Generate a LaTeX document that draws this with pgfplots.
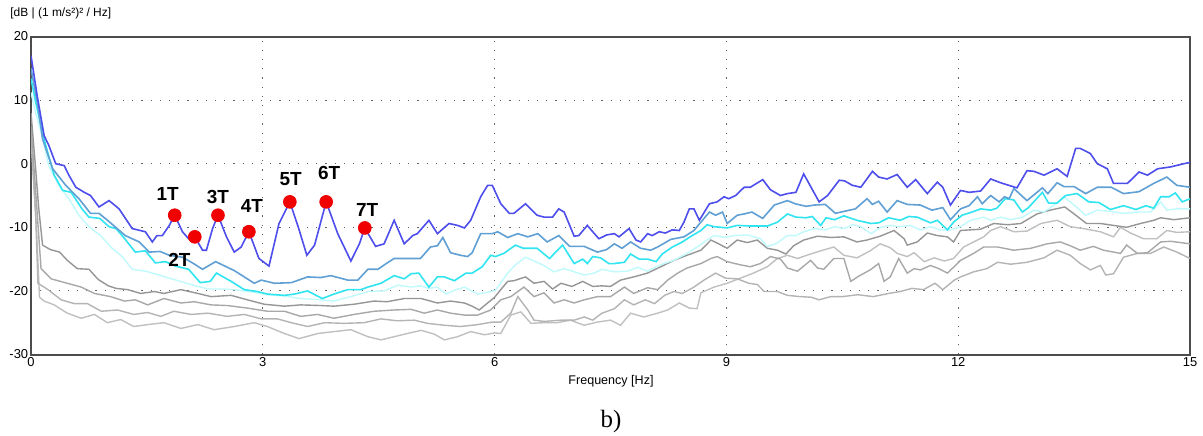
\documentclass[border=0pt]{standalone}
\usepackage{fontspec}
\setmainfont{Liberation Sans}
\newfontfamily\serifb{Liberation Serif}
\usepackage{pgfplots}
\pgfplotsset{compat=1.18}
\definecolor{mainb}{RGB}{78,78,236}
\definecolor{steel}{RGB}{96,160,212}
\definecolor{cyn}{RGB}{48,228,240}
\definecolor{lcyn}{RGB}{192,250,252}
\definecolor{gA}{RGB}{150,150,150}
\definecolor{gB}{RGB}{168,168,168}
\definecolor{gC}{RGB}{180,180,180}
\definecolor{gD}{RGB}{192,192,192}
\definecolor{dotred}{RGB}{240,0,0}
\begin{document}
\begin{tikzpicture}
\useasboundingbox[fill=white] (0bp,0bp) rectangle (601.5bp,-218bp);
\begin{axis}[
  at={(15.5bp,-177.25bp)}, anchor=south west,
  scale only axis, width=579.5bp, height=159bp,
  xmin=0, xmax=15, ymin=-30, ymax=20,
  xtick={0,3,6,9,12,15}, ytick={-30,-20,-10,0,10,20},
  major tick length=0pt,
  grid=major,
  major grid style={gray!75!black, line width=0.5bp, dash pattern=on 0.6bp off 4bp},
  axis line style={gray!60!black, line width=1bp},
  /pgf/number format/assume math mode=true,
  tick label style={font=\fontsize{6.5}{7}\selectfont, text=black},
  yticklabel style={inner sep=1.2bp},
  xticklabel style={inner sep=1.2bp},
  clip=true,
]
% gray curves
\addplot[gD, line width=0.7bp] coordinates {(0,4)(0.07,-10)(0.11,-21)(0.17,-21.6)(0.30,-22.2)(0.47,-23.5)(0.65,-24.3)(0.82,-23.7)(0.99,-25.0)(1.16,-24.5)(1.33,-25.6)(1.51,-25.3)(1.72,-25.0)(1.94,-25.9)(2.16,-25.3)(2.37,-26.1)(2.63,-25.6)(2.89,-25.0)(3.06,-25.6)(3.28,-26.7)(3.47,-27.5)(3.71,-26.7)(3.92,-26.4)(4.14,-26.1)(4.36,-27.2)(4.53,-27.7)(4.70,-27.2)(4.87,-26.7)(5.05,-26.2)(5.22,-26.8)(5.35,-27.7)(5.52,-27.2)(5.69,-26.4)(5.87,-26.9)(6.0,-26.6)(6.08,-26.7)(6.21,-23.8)(6.34,-23.3)(6.47,-25.1)(6.64,-25.0)(6.81,-25.0)(6.98,-24.6)(7.16,-25.4)(7.33,-24.9)(7.50,-24.6)(7.63,-25.4)(7.76,-23.5)(7.93,-24.1)(8.11,-23.5)(8.24,-23.0)(8.39,-21.9)(8.52,-22.7)(8.62,-22.8)(8.67,-20.3)(8.84,-19.4)(9.01,-18.8)(9.18,-18.0)(9.35,-17.2)(9.53,-16.2)(9.66,-14.9)(9.79,-14.4)(9.92,-14.9)(10.09,-14.2)(10.22,-13.7)(10.39,-13.1)(10.52,-14.4)(10.69,-14.8)(10.86,-13.7)(10.99,-12.6)(11.12,-13.2)(11.21,-14.1)(11.34,-14.6)(11.43,-14.0)(11.56,-15.4)(11.69,-14.8)(11.82,-15.3)(11.94,-14.9)(12.07,-13.1)(12.20,-12.3)(12.33,-11.5)(12.42,-10.5)(12.55,-9.9)(12.72,-10.7)(12.89,-10.6)(13.07,-9.4)(13.28,-8.9)(13.45,-9.9)(13.62,-10.2)(13.84,-10.7)(14.01,-11.5)(14.10,-10.0)(14.23,-10.9)(14.40,-11.8)(14.57,-11.8)(14.70,-10.5)(14.83,-10.8)(15,-10.7)};
\addplot[gC, line width=0.7bp] coordinates {(0,5)(0.06,-8)(0.09,-18.8)(0.22,-19.8)(0.39,-21.4)(0.56,-22.0)(0.73,-22.0)(0.91,-23.2)(1.12,-23.0)(1.33,-23.7)(1.51,-23.4)(1.68,-24.0)(1.85,-23.2)(2.07,-23.7)(2.29,-23.5)(2.54,-24.0)(2.76,-23.7)(2.98,-24.4)(3.19,-24.4)(3.37,-25.0)(3.58,-25.6)(3.80,-25.0)(4.05,-25.1)(4.31,-25.0)(4.53,-24.4)(4.74,-24.7)(4.96,-24.6)(5.13,-25.1)(5.35,-25.4)(5.56,-25.6)(5.78,-25.3)(5.97,-24.9)(6.08,-24.9)(6.21,-23.5)(6.30,-20.9)(6.43,-23.0)(6.51,-24.6)(6.64,-24.8)(6.86,-24.6)(7.03,-24.6)(7.16,-24.1)(7.27,-24.6)(7.39,-23.5)(7.55,-22.8)(7.68,-21.4)(7.80,-22.2)(7.95,-21.4)(8.07,-22.0)(8.20,-20.7)(8.32,-20.1)(8.43,-20.4)(8.58,-19.4)(8.71,-18.3)(8.86,-17.2)(8.99,-18.0)(9.14,-18.1)(9.29,-18.8)(9.40,-19.0)(9.49,-20.1)(9.66,-20.1)(9.79,-20.7)(9.96,-20.9)(10.1,-21.0)(10.2,-21.4)(10.35,-20.9)(10.5,-20.9)(10.7,-20.6)(10.9,-20.9)(11.1,-20.4)(11.25,-20.1)(11.4,-19.6)(11.55,-19.8)(11.7,-18.8)(11.8,-19.8)(11.95,-18.3)(12.03,-17.8)(12.20,-17.0)(12.37,-16.5)(12.51,-15.5)(12.68,-15.8)(12.89,-15.5)(13.11,-14.8)(13.28,-13.6)(13.45,-14.4)(13.58,-15.7)(13.71,-16.7)(13.84,-16.0)(13.91,-17.5)(14.01,-17.3)(14.14,-14.7)(14.32,-14.1)(14.49,-14.1)(14.66,-13.1)(14.83,-13.9)(15,-14.9)};
\addplot[gB, line width=0.7bp] coordinates {(0,6)(0.07,-6)(0.13,-16.5)(0.26,-18.1)(0.47,-18.8)(0.65,-19.4)(0.82,-20.4)(1.03,-20.9)(1.21,-21.6)(1.35,-21.4)(1.51,-22.2)(1.72,-21.2)(1.94,-21.9)(2.11,-21.7)(2.33,-22.2)(2.54,-22.3)(2.80,-22.7)(3.06,-23.2)(3.28,-23.2)(3.49,-24.0)(3.71,-23.7)(3.92,-24.3)(4.18,-23.7)(4.44,-23.2)(4.70,-23.0)(4.92,-22.9)(5.09,-23.5)(5.26,-23.0)(5.43,-23.5)(5.61,-23.8)(5.78,-23.8)(5.95,-23.0)(6.08,-21.4)(6.21,-20.9)(6.38,-19.4)(6.51,-20.9)(6.64,-20.3)(6.77,-21.9)(6.90,-21.4)(7.03,-21.9)(7.16,-21.4)(7.33,-20.9)(7.50,-20.9)(7.68,-19.4)(7.80,-20.4)(7.98,-19.5)(8.11,-19.8)(8.24,-18.3)(8.37,-17.2)(8.49,-16.4)(8.67,-15.7)(8.80,-14.9)(8.88,-14.6)(9.01,-15.4)(9.18,-15.9)(9.31,-16.2)(9.44,-15.7)(9.57,-14.6)(9.70,-15.0)(9.79,-16.4)(9.92,-16.9)(10.09,-15.2)(10.18,-16.4)(10.26,-16.6)(10.39,-14.9)(10.52,-14.9)(10.61,-18.5)(10.71,-17.7)(10.86,-16.7)(10.97,-15.7)(11.04,-18.5)(11.12,-17.8)(11.23,-14.9)(11.34,-17.2)(11.43,-16.5)(11.51,-16.7)(11.64,-16.0)(11.75,-16.5)(11.86,-17.2)(11.99,-15.7)(12.03,-15.2)(12.20,-14.1)(12.33,-13.1)(12.51,-13.1)(12.72,-13.6)(12.94,-13.3)(13.15,-12.6)(13.32,-12.3)(13.45,-12.9)(13.58,-13.6)(13.75,-13.0)(13.88,-13.6)(14.10,-14.1)(14.18,-12.8)(14.32,-14.1)(14.45,-14.0)(14.62,-12.3)(14.75,-12.2)(15,-12.6)};
\addplot[gA, line width=0.7bp] coordinates {(0,8)(0.06,-0.8)(0.10,-7)(0.15,-12.8)(0.25,-13.5)(0.37,-13.9)(0.47,-15.2)(0.6,-16.5)(0.75,-16.6)(0.87,-18.2)(1.0,-19.2)(1.1,-19.6)(1.25,-19.8)(1.42,-20.4)(1.6,-20.1)(1.72,-20.4)(1.94,-19.8)(2.16,-20.4)(2.33,-20.9)(2.59,-20.7)(2.8,-21.4)(3.02,-22.1)(3.28,-22.4)(3.49,-22.2)(3.75,-22.3)(3.92,-22.4)(4.18,-22.1)(4.44,-21.6)(4.61,-21.7)(4.83,-21.2)(5.05,-21.2)(5.26,-21.9)(5.43,-21.6)(5.61,-21.9)(5.71,-22.4)(5.8,-23.0)(5.91,-21.9)(6.0,-21.0)(6.08,-19.8)(6.17,-18.5)(6.25,-18.4)(6.40,-17.8)(6.51,-18.8)(6.64,-18.5)(6.75,-19.7)(6.86,-18.8)(7.0,-19.3)(7.14,-18.5)(7.27,-19.3)(7.39,-19.2)(7.50,-19.3)(7.63,-18.3)(7.80,-17.8)(7.98,-17.2)(8.15,-16.2)(8.32,-15.2)(8.49,-14.4)(8.67,-13.6)(8.80,-12.0)(8.90,-12.6)(9.01,-13.3)(9.14,-12.0)(9.27,-12.4)(9.40,-12.0)(9.53,-13.3)(9.66,-13.6)(9.77,-14.2)(9.87,-12.9)(10.0,-12.0)(10.18,-11.4)(10.35,-11.6)(10.52,-11.5)(10.69,-12.3)(10.82,-12.0)(10.99,-11.4)(11.17,-10.5)(11.30,-11.8)(11.34,-12.8)(11.47,-12.3)(11.60,-10.9)(11.73,-11.3)(11.86,-11.5)(11.94,-12.3)(12.03,-10.5)(12.29,-10.3)(12.46,-9.4)(12.64,-9.6)(12.81,-9.4)(13.02,-7.9)(13.19,-7.3)(13.38,-6.8)(13.49,-7.8)(13.66,-9.4)(13.84,-9.4)(14.01,-9.7)(14.18,-10.0)(14.36,-9.4)(14.53,-8.9)(14.62,-8.5)(14.79,-8.8)(15,-8.5)};
% light cyan
\addplot[lcyn, line width=0.7bp] coordinates {(0,11.2)(0.06,8)(0.13,5.0)(0.23,-0.3)(0.36,-3.4)(0.49,-5.5)(0.62,-8.1)(0.75,-9.9)(0.90,-11.3)(1.05,-13.3)(1.18,-14.6)(1.31,-16.6)(1.48,-16.9)(1.66,-17.5)(1.79,-18.0)(1.96,-18.6)(2.13,-19.2)(2.30,-19.7)(2.47,-19.7)(2.63,-19.8)(2.89,-20.2)(3.06,-20.6)(3.28,-20.8)(3.49,-21.2)(3.75,-21.4)(3.92,-21.6)(4.14,-20.9)(4.36,-20.1)(4.57,-20.0)(4.75,-19.1)(4.92,-19.4)(5.04,-19.2)(5.15,-19.6)(5.26,-19.4)(5.37,-20.5)(5.48,-19.9)(5.61,-19.4)(5.78,-20.5)(5.91,-20.2)(6.01,-19.9)(6.17,-17.2)(6.27,-15.9)(6.40,-14.7)(6.51,-15.3)(6.62,-15.9)(6.77,-17.0)(6.90,-16.5)(7.03,-17.0)(7.16,-17.5)(7.29,-17.2)(7.39,-16.6)(7.55,-17.0)(7.72,-16.9)(7.85,-16.3)(7.98,-16.9)(8.07,-16.3)(8.19,-15.7)(8.32,-15.2)(8.49,-14.1)(8.62,-13.1)(8.75,-12.0)(8.84,-11.3)(8.99,-11.6)(9.10,-11.3)(9.27,-11.2)(9.44,-11.8)(9.53,-13.0)(9.64,-12.6)(9.79,-11.3)(9.90,-11.3)(10.0,-10.7)(10.14,-10.2)(10.28,-10.4)(10.40,-9.9)(10.52,-10.2)(10.63,-9.6)(10.74,-9.9)(10.87,-11.0)(11.0,-10.0)(11.12,-9.7)(11.25,-9.9)(11.38,-9.7)(11.51,-10.4)(11.64,-9.9)(11.77,-10.4)(11.90,-10.4)(12.03,-9.9)(12.16,-8.9)(12.33,-8.4)(12.42,-8.9)(12.55,-8.4)(12.68,-8.8)(12.83,-8.4)(12.98,-7.3)(13.11,-7.6)(13.24,-6.5)(13.37,-5.2)(13.50,-6.5)(13.65,-8.1)(13.80,-7.3)(13.97,-7.5)(14.14,-7.8)(14.32,-7.6)(14.49,-7.6)(14.62,-6.0)(14.70,-7.3)(14.83,-7.1)(15,-7.1)};
% cyan
\addplot[cyn, line width=0.8bp] coordinates {(0,13.4)(0.06,9.7)(0.10,7.6)(0.19,2.9)(0.30,-1.8)(0.41,-4.2)(0.52,-4.5)(0.66,-7.1)(0.75,-8.4)(0.89,-8.6)(1.01,-9.9)(1.10,-10.2)(1.18,-11.3)(1.35,-13.9)(1.48,-13.7)(1.61,-15.6)(1.74,-15.4)(1.87,-16.1)(2.04,-16.6)(2.19,-18.7)(2.32,-18.5)(2.40,-17.2)(2.59,-18.5)(2.76,-19.8)(2.93,-20.1)(3.06,-20.5)(3.28,-20.7)(3.41,-20.5)(3.58,-20.0)(3.77,-21.2)(3.92,-20.5)(4.10,-19.8)(4.27,-19.8)(4.36,-19.4)(4.53,-18.8)(4.70,-17.6)(4.83,-18.1)(4.92,-17.3)(5.02,-17.2)(5.15,-19.4)(5.26,-17.8)(5.35,-17.8)(5.48,-18.4)(5.63,-17.2)(5.71,-17.2)(5.84,-16.2)(5.95,-14.4)(6.01,-14.6)(6.12,-14.1)(6.27,-12.8)(6.37,-13.3)(6.55,-13.3)(6.71,-14.9)(6.88,-12.8)(7.03,-15.7)(7.14,-15.0)(7.20,-15.7)(7.27,-14.6)(7.37,-14.8)(7.48,-15.7)(7.55,-15.7)(7.68,-15.5)(7.76,-14.2)(7.87,-15.0)(7.98,-15.0)(8.09,-15.4)(8.17,-14.2)(8.30,-13.1)(8.43,-12.3)(8.53,-11.5)(8.67,-10.5)(8.75,-9.6)(8.84,-9.9)(9.01,-10.1)(9.14,-9.7)(9.31,-9.8)(9.53,-9.8)(9.66,-9.2)(9.79,-7.9)(9.90,-8.4)(10.03,-8.5)(10.11,-8.3)(10.22,-9.7)(10.29,-8.5)(10.40,-8.8)(10.52,-8.2)(10.69,-8.9)(10.87,-9.4)(10.97,-9.3)(11.10,-8.5)(11.25,-8.9)(11.36,-8.3)(11.47,-8.4)(11.64,-9.3)(11.73,-8.9)(11.86,-10.4)(11.94,-9.2)(12.05,-8.1)(12.18,-7.6)(12.29,-7.1)(12.42,-7.3)(12.50,-7.0)(12.61,-5.5)(12.72,-5.7)(12.83,-7.6)(12.91,-6.9)(13.09,-4.5)(13.17,-6.2)(13.28,-6.2)(13.39,-5.0)(13.54,-4.7)(13.69,-6.0)(13.82,-6.1)(13.97,-7.2)(14.14,-6.6)(14.30,-7.2)(14.43,-6.6)(14.53,-7.0)(14.62,-5.2)(14.73,-5.2)(14.81,-4.6)(14.90,-6.0)(15,-5.5)};
% steel blue
\addplot[steel, line width=0.8bp] coordinates {(0,15)(0.08,9.7)(0.15,3.9)(0.28,-0.8)(0.45,-3.4)(0.62,-5.5)(0.77,-7.8)(0.88,-7.8)(1.01,-9.1)(1.22,-11.3)(1.40,-12.3)(1.53,-13.9)(1.67,-13.8)(1.79,-14.4)(1.96,-14.7)(2.09,-15.6)(2.22,-16.6)(2.39,-15.4)(2.63,-16.8)(2.89,-18.8)(2.98,-18.3)(3.15,-18.8)(3.37,-18.7)(3.58,-17.8)(3.75,-17.9)(3.88,-17.6)(4.10,-18.3)(4.23,-18.3)(4.36,-16.6)(4.49,-16.6)(4.61,-15.6)(4.70,-14.9)(4.88,-14.9)(5.04,-14.9)(5.17,-13.1)(5.26,-12.9)(5.33,-11.6)(5.43,-14.0)(5.56,-14.4)(5.65,-14.6)(5.71,-14.0)(5.82,-11.0)(5.97,-11.0)(6.04,-10.7)(6.17,-11.6)(6.30,-11.0)(6.43,-11.5)(6.56,-11.0)(6.68,-12.3)(6.83,-11.3)(6.97,-13.0)(7.16,-13.0)(7.33,-13.9)(7.45,-13.5)(7.55,-12.6)(7.65,-13.3)(7.76,-12.3)(7.89,-13.3)(8.02,-13.6)(8.11,-13.1)(8.28,-11.9)(8.45,-11.5)(8.58,-10.5)(8.69,-8.9)(8.78,-7.6)(8.86,-8.1)(8.95,-7.6)(9.01,-9.4)(9.14,-8.1)(9.23,-7.9)(9.33,-7.6)(9.47,-8.6)(9.62,-6.5)(9.79,-5.8)(9.89,-6.3)(10.03,-6.7)(10.14,-6.5)(10.28,-6.4)(10.41,-7.8)(10.52,-7.5)(10.67,-7.1)(10.82,-5.5)(10.89,-6.4)(10.97,-5.9)(11.08,-7.6)(11.21,-5.8)(11.34,-6.4)(11.51,-6.5)(11.66,-7.3)(11.80,-6.9)(11.90,-8.8)(12.03,-7.1)(12.14,-6.6)(12.25,-5.2)(12.31,-6.3)(12.42,-5.0)(12.53,-6.0)(12.60,-5.2)(12.66,-5.5)(12.72,-3.9)(12.89,-5.8)(13.09,-3.8)(13.16,-4.7)(13.28,-3.0)(13.37,-3.6)(13.50,-3.6)(13.65,-4.7)(13.80,-3.7)(13.98,-3.7)(14.14,-4.7)(14.34,-4.4)(14.53,-3.1)(14.70,-2.1)(14.83,-3.4)(15,-3.7)};
% main blue
\addplot[mainb, line width=0.8bp] coordinates {(0,17)(0.08,10.7)(0.17,4.4)(0.23,2.9)(0.32,0.0)(0.43,-0.3)(0.49,-1.8)(0.58,-3.7)(0.69,-4.5)(0.77,-5.0)(0.88,-6.8)(1.01,-5.8)(1.14,-7.1)(1.31,-10.2)(1.48,-10.7)(1.57,-12.3)(1.63,-11.3)(1.70,-11.3)(1.79,-9.7)(1.86,-8.1)(1.96,-10.7)(2.04,-11.8)(2.12,-11.5)(2.22,-13.6)(2.27,-13.6)(2.35,-10.2)(2.42,-8.1)(2.53,-11.5)(2.63,-13.9)(2.72,-13.1)(2.82,-10.7)(2.95,-14.9)(3.08,-16.1)(3.21,-9.4)(3.35,-6.0)(3.46,-10)(3.57,-14.4)(3.67,-12.8)(3.82,-6.0)(3.97,-11)(4.14,-15.3)(4.25,-12.6)(4.32,-10.1)(4.46,-13.0)(4.57,-12.6)(4.70,-8.9)(4.83,-12.6)(4.94,-11.3)(5.0,-11.0)(5.15,-8.9)(5.26,-11.0)(5.41,-9.4)(5.52,-9.7)(5.61,-10.1)(5.69,-8.9)(5.82,-5.2)(5.91,-3.4)(5.97,-3.4)(6.08,-6.3)(6.19,-7.8)(6.25,-7.8)(6.40,-6.3)(6.55,-8.1)(6.64,-8.4)(6.75,-8.4)(6.83,-7.1)(6.90,-7.6)(7.03,-11.4)(7.09,-11.3)(7.20,-9.7)(7.27,-10.7)(7.35,-11.8)(7.45,-11.2)(7.55,-11.0)(7.61,-11.5)(7.74,-10.2)(7.83,-12.0)(7.89,-12.3)(7.98,-11.0)(8.04,-11.3)(8.13,-10.7)(8.21,-10.9)(8.30,-10.4)(8.39,-10.5)(8.45,-9.2)(8.52,-7.1)(8.58,-7.1)(8.65,-8.9)(8.78,-6.3)(8.88,-6.0)(8.97,-5.2)(9.03,-5.5)(9.12,-5.0)(9.23,-3.7)(9.31,-3.7)(9.47,-2.5)(9.57,-4.1)(9.70,-5.0)(9.79,-4.7)(9.90,-4.5)(10.0,-1.6)(10.20,-6.0)(10.31,-5.0)(10.46,-2.6)(10.53,-2.7)(10.63,-3.4)(10.74,-3.7)(10.89,-1.2)(10.97,-2.1)(11.08,-2.4)(11.21,-1.7)(11.34,-3.7)(11.45,-2.5)(11.60,-4.7)(11.73,-2.9)(11.80,-3.7)(11.90,-6.5)(12.03,-4.2)(12.14,-4.5)(12.29,-4.3)(12.42,-2.4)(12.55,-3.0)(12.76,-3.8)(12.89,-1.1)(12.98,-1.2)(13.11,-1.8)(13.28,-0.8)(13.41,-2.0)(13.52,2.4)(13.58,2.4)(13.71,1.6)(13.80,0)(13.93,-0.8)(14.01,-3.1)(14.19,-3.1)(14.34,-1.3)(14.45,-1.8)(14.58,-0.8)(14.75,-0.5)(14.92,0)(15,0.2)};
% red markers
\addplot[only marks, mark=*, mark size=3.2bp, color=dotred, mark options={fill=dotred, draw=dotred}] coordinates {(1.86,-8.1)(2.12,-11.5)(2.42,-8.1)(2.82,-10.7)(3.35,-6.0)(3.82,-6.0)(4.32,-10.1)};
\begin{scope}[every node/.style={font=\fontsize{9.5}{10}\selectfont\bfseries, inner sep=0pt}]
\node at (axis cs:1.77,-4.8) {1T};
\node at (axis cs:1.92,-15.1) {2T};
\node at (axis cs:2.42,-5.3) {3T};
\node at (axis cs:2.86,-6.7) {4T};
\node at (axis cs:3.36,-2.4) {5T};
\node at (axis cs:3.86,-1.5) {6T};
\node at (axis cs:4.35,-7.2) {7T};
\end{scope}
\end{axis}
\node[anchor=west, inner sep=0pt, font=\fontsize{6}{7}\selectfont] at (5bp,-6.5bp) {[dB | (1 m/s²)² / Hz]};
\node[inner sep=0pt, font=\fontsize{6.3}{7}\selectfont] at (305.5bp,-190.5bp) {Frequency [Hz]};
\node[inner sep=0pt, font=\serifb\fontsize{12.5}{14}\selectfont] at (305.5bp,-211bp) {b)};
\end{tikzpicture}
\end{document}
